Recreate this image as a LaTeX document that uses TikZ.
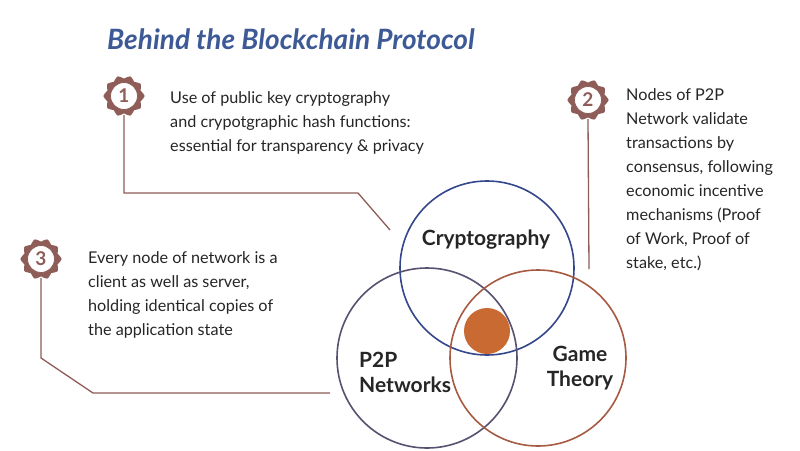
\documentclass[tikz,border=0pt]{standalone}
\usepackage{fontspec}
\setmainfont{Lato}
\begin{document}
\definecolor{brn}{HTML}{8E5D57}
\definecolor{cblue}{HTML}{34478A}
\definecolor{cpur}{HTML}{585070}
\definecolor{cgame}{HTML}{A65A42}
\definecolor{dot}{HTML}{C86A32}
\definecolor{ttl}{HTML}{3D5A96}
\definecolor{txt}{HTML}{262626}
\begin{tikzpicture}[x=1pt,y=-1pt,
  conn/.style={brn,line width=1.3pt},
  txtb/.style={anchor=north west,align=left,text=txt,font=\fontsize{16.2}{24}\selectfont,inner sep=0pt},
  lbl/.style={text=txt,font=\fontsize{21}{25}\selectfont\bfseries,inner sep=0pt},
  num/.style={text=brn,font=\fontsize{19}{19}\selectfont\bfseries,inner sep=0pt}]
\useasboundingbox[fill=white] (0,0) rectangle (800,450);
\newcommand\badge[4]{%
  \fill[brn] plot[smooth cycle,samples=40,domain=0:351,variable=\t]
     ({#1+(19+1.6*cos(10*\t))*cos(\t)},{#2+(19+1.6*cos(10*\t))*sin(\t)});
  \draw[brn,fill=white,line width=0.8pt] (#1,#2) circle (13.5);
  \node[num] (#4) at (#1,#2) {#3};}
\node[font=\fontsize{28}{30}\selectfont\bfseries\itshape,text=ttl,anchor=west,inner sep=0] (title) at (107,39) {Behind the Blockchain Protocol};
\node[circle,draw=cblue,line width=1.6pt,minimum size=174pt,inner sep=0] (cr) at (487,268) {};
\node[circle,draw=cpur,line width=1.6pt,minimum size=180pt,inner sep=0] (pp) at (427,358) {};
\node[circle,draw=cgame,line width=1.6pt,minimum size=176pt,inner sep=0] (gt) at (538,358) {};
\node[circle,fill=dot,minimum size=46pt,inner sep=0] (core) at (487,331) {};
\node[lbl,align=center] (lcr) at (486,240) {Cryptography};
\node[lbl,align=left,anchor=west] (lpp) at (359,372) {P2P\\Networks};
\node[lbl,align=center] (lgt) at (580,368) {Game\\Theory};
\badge{124}{96}{1}{b1}
\badge{588}{100}{2}{b2}
\badge{41}{259}{3}{b3}
\coordinate (e1) at (390,230);
\coordinate (e2) at (589,269);
\coordinate (e3) at (330,393);
\draw[conn] (b1.south |- 0,115) -- (124,193) -- (358,193) -- (e1);
\draw[conn] (588,119) -- (e2);
\draw[conn] (41,278) -- (41,358) -- (93,393) -- (e3);
\node[txtb] (t1) at (170,91) {Use of public key cryptography\\and crypotgraphic hash functions:\\essential for transparency \& privacy};
\node[txtb] (t2) at (626,88) {Nodes of P2P\\Network validate\\transactions by\\consensus, following\\economic incentive\\mechanisms (Proof\\of Work, Proof of\\stake, etc.)};
\node[txtb] (t3) at (88,251) {Every node of network is a\\client as well as server,\\holding identical copies of\\the application state};
\end{tikzpicture}
\end{document}
